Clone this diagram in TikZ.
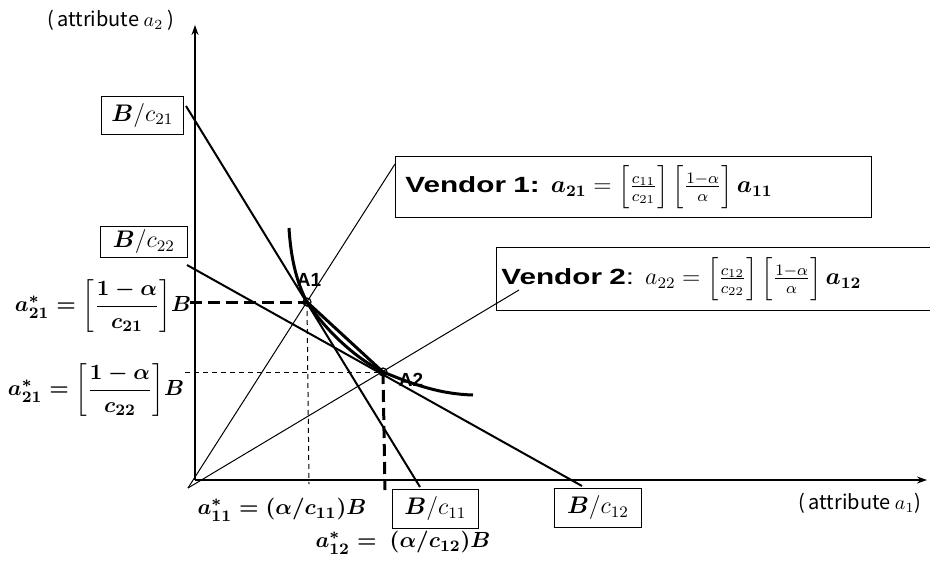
\documentclass[tikz,border=0pt]{standalone}
\usepackage{amsmath,amssymb,bm}
\usepackage[no-math]{fontspec}
\setmainfont{Liberation Sans}
\newfontfamily\vendorfont[FakeStretch=1.35]{Liberation Sans}
\newfontfamily\jpfont{Noto Sans CJK JP}
\usetikzlibrary{arrows.meta}

\begin{document}
\begin{tikzpicture}[x=0.5pt,y=-0.5pt,
  box/.style={draw,inner sep=0pt,anchor=north west,font=\fontsize{11.5}{14}\selectfont},
  vbox/.style={draw,anchor=north west,align=left,font=\vendorfont\fontsize{11}{13}\selectfont},
  lbl/.style={font=\fontsize{11}{14}\selectfont\boldmath},
  axislbl/.style={font=\jpfont\fontsize{10}{12}\selectfont},
  pt/.style={font=\bfseries\fontsize{9.5}{11}\selectfont},
  axis/.style={line width=0.6pt,-{Stealth[length=5pt,width=3.5pt]}},
  budget/.style={line width=1pt},
  ray/.style={line width=0.5pt},
  thickdash/.style={line width=1.5pt,dash pattern=on 6pt off 3pt},
  thindash/.style={line width=0.5pt,dash pattern=on 2.5pt off 2pt}]
\useasboundingbox (0,0) rectangle (930,561);

% points
\coordinate (O) at (188,488);
\coordinate (A1) at (307,302);
\coordinate (A2) at (383,372);

% axes
\coordinate (yb) at (195,480);
\coordinate (yt) at (195,25);
\coordinate (xb) at (195,480);
\coordinate (xe) at (927,480);
\draw[axis] (yb) -- (yt);
\draw[axis] (xb) -- (xe);
\node[axislbl] (ax2) at (111,20) {(\,attribute $a_2$ )};
\node[axislbl] (ax1) at (860,503) {(\,attribute $a_1$)};

% boxes
\node[box,minimum width=41pt,minimum height=19pt] (Bc21) at (101,96) {$\bm{B}/c_{21}$};
\node[box,minimum width=43.5pt,minimum height=15.5pt] (Bc22) at (100,226) {$\bm{B}/c_{22}$};
\node[box,minimum width=43pt,minimum height=19.5pt] (Bc11) at (392,489) {$\bm{B}/c_{11}$};
\node[box,minimum width=43.5pt,minimum height=19.5pt] (Bc12) at (554,488) {$\bm{B}/c_{12}$};
\node[vbox,inner xsep=5pt,text width=228pt,minimum height=30.5pt] (V1) at (395,156)
  {\textbf{Vendor 1:} {\fontsize{12}{14}\selectfont$\bm{a_{21}} = \Big[\frac{c_{11}}{c_{21}}\Big]\,\Big[\frac{1-\alpha}{\alpha}\Big]\,\bm{a_{11}}$}};
\node[vbox,inner xsep=2.5pt,text width=214.5pt,minimum height=31.5pt] (V2) at (496,247)
  {\textbf{Vendor 2}: {\fontsize{12}{14}\selectfont$a_{22} = \Big[\frac{c_{12}}{c_{22}}\Big]\,\Big[\frac{1-\alpha}{\alpha}\Big]\,\bm{a_{12}}$}};

% budget lines
\coordinate (p21) at (186,106);
\coordinate (q11) at (420,487);
\coordinate (p22) at (187,265);
\coordinate (q12) at (582,486);
\draw[budget] (p21) -- (q11);
\draw[budget] (p22) -- (q12);

% vendor rays
\coordinate (v1) at (395,164);
\coordinate (v2) at (519,290);
\draw[ray] (O) -- (v1);
\draw[ray] (O) -- (v2);

% projections
\coordinate (h1) at (190,302);
\coordinate (h2) at (185,372);
\coordinate (d1) at (309,484);
\coordinate (d2) at (385,490);
\draw[thickdash] (h1) -- (A1);
\draw[thickdash] (A2) -- (d2);
\draw[thindash] (h2) -- (A2);
\draw[thindash] (A1) -- (d1);

% curve and chord
\draw[line width=1.5pt] (A1) -- (A2);
\draw[line width=1.5pt] (289,228) .. controls (291,262) and (298,285) .. (A1)
  .. controls (322,325) and (350,355) .. (A2)
  .. controls (415,385) and (440,394) .. (473,395);
\draw[line width=0.6pt] (A1) circle[radius=2pt];
\draw[line width=0.6pt] (A2) circle[radius=2pt];
\node[pt] (lA1) at (309,280) {A1};
\node[pt] (lA2) at (411,380) {A2};

% values
\node[lbl] (f21) at (103,306) {$a^*_{21} = \left[\displaystyle\frac{1-\alpha}{c_{21}}\right]\!B$};
\node[lbl] (f22) at (96,390) {$a^*_{21} = \left[\displaystyle\frac{1-\alpha}{c_{22}}\right]\!B$};
\node[lbl] (f11) at (282,510) {$a^*_{11} = (\alpha/c_{11})B$};
\node[lbl] (f12) at (403,543) {$a^*_{12} =\ (\alpha/c_{12})B$};
\end{tikzpicture}
\end{document}
